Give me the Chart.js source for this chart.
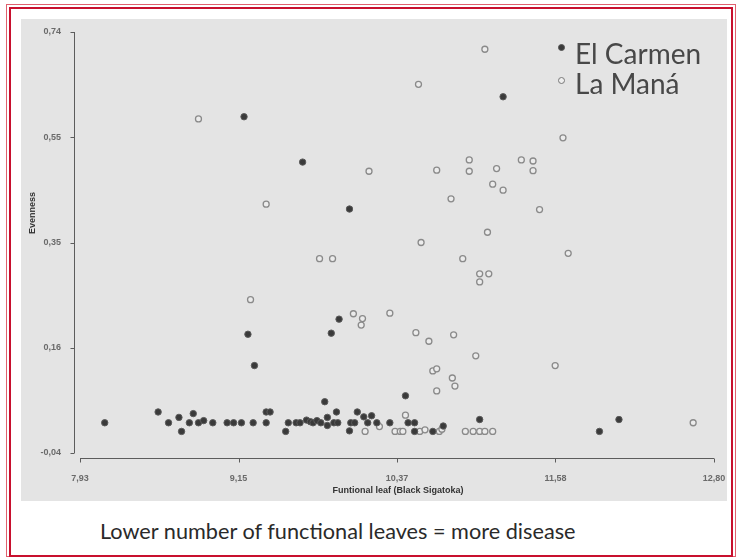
<!DOCTYPE html>
<html>
<head>
<meta charset="utf-8">
<script src="https://cdn.jsdelivr.net/npm/chart.js@4.4.1/dist/chart.umd.min.js"></script>
<style>
  html, body { margin: 0; padding: 0; background: #fff; }
  #page { position: relative; width: 736px; height: 557px; overflow: hidden; background: #fff; }
  .frame-outer { position: absolute; left: 6px; top: 4px; width: 728px; height: 551px; border: 1px solid #e0606e; }
  .frame-inner { position: absolute; left: 9px; top: 7px; width: 720px; height: 546px; border: 2px solid #c8102e; }
  #panel { position: absolute; left: 21px; top: 19px; width: 706px; height: 482px; background: #e4e4e4; }
  #panel canvas { position: absolute; left: 0; top: 0; }
  .axis-title { position: absolute; font: bold 9px "Liberation Sans", Arial, sans-serif; color: #333; white-space: nowrap; }
  #xTitle { left: 398px; top: 490px; transform: translate(-50%, -50%); }
  #yTitle { left: 32px; top: 213px; transform: translate(-50%, -50%) rotate(-90deg); }
  .legend-row { position: absolute; left: 575px; font: 28px Lato, sans-serif; line-height: 28px; color: #484848; white-space: nowrap; }
  .legend-dot { position: absolute; width: 7px; height: 7px; border-radius: 50%; box-sizing: border-box; }
  #caption { position: absolute; left: 100px; top: 520px; font: 21.7px Lato, sans-serif; line-height: 22px; color: #2a2a2a; white-space: nowrap; }
</style>
</head>
<body>
<div id="page">
  <div class="frame-outer"></div>
  <div class="frame-inner"></div>
  <div id="panel"><canvas id="scatter" width="706" height="482"></canvas></div>
  <div class="axis-title" id="xTitle">Funtional leaf (Black Sigatoka)</div>
  <div class="axis-title" id="yTitle">Evenness</div>
  <div class="legend-dot" style="left:558px;top:44px;background:#3a3a3a;border:1px solid #555;"></div>
  <div class="legend-row" style="top:39px;">El Carmen</div>
  <div class="legend-dot" style="left:558px;top:77px;background:#eee;border:1.3px solid #777;"></div>
  <div class="legend-row" style="top:69px;">La Maná</div>
  <div id="caption">Lower number of functional leaves = more disease</div>
</div>
<script>
// axis ticks (equal steps between min and max, labels use decimal comma)
var xTicks = [7.93, 9.1475, 10.365, 11.5825, 12.80];
var xTickLabels = ['7,93', '9,15', '10,37', '11,58', '12,80'];
var yTicks = [-0.04, 0.155, 0.35, 0.545, 0.74];
var yTickLabels = ['-0,04', '0,16', '0,35', '0,55', '0,74'];

// El Carmen
var carmenLeaf = [8.12, 8.53, 8.61, 8.69, 8.71, 8.80, 8.77, 8.84, 8.88, 8.95, 9.06, 9.11, 9.17, 9.26, 9.36, 9.36, 9.39,
  9.51, 9.53, 9.59, 9.62, 9.67, 9.70, 9.72, 9.75, 9.78, 9.81, 9.83, 9.83, 9.88, 9.91, 9.90, 10.01, 10.04, 10.00,
  10.06, 10.11, 10.14, 10.17, 10.21, 10.31, 10.43, 10.45, 10.50, 10.50, 10.64, 10.72, 11.00, 11.92, 12.07,
  9.19, 9.64, 10.00, 9.92, 9.86, 9.22, 9.27, 11.18];
var carmenEven = [0.016, 0.036, 0.016, 0.026, 0.000, 0.033, 0.016, 0.016, 0.020, 0.016, 0.016, 0.016, 0.016, 0.016, 0.016, 0.036, 0.036,
  0.000, 0.016, 0.016, 0.016, 0.021, 0.018, 0.016, 0.020, 0.016, 0.055, 0.026, 0.011, 0.016, 0.016, 0.036, 0.016, 0.016, 0.001,
  0.036, 0.027, 0.016, 0.029, 0.016, 0.016, 0.066, 0.016, 0.016, 0.000, 0.000, 0.010, 0.022, 0.000, 0.022,
  0.583, 0.499, 0.412, 0.208, 0.182, 0.180, 0.122, 0.620];

// La Maná
var manaLeaf = [8.84, 11.04, 10.53, 11.64, 10.92, 11.32, 11.41, 11.41, 10.67, 10.92, 11.13, 11.10, 11.18, 10.78, 11.46,
  10.15, 9.36, 11.06, 10.55, 11.68, 9.77, 9.87, 10.87, 11.00, 11.07, 11.00, 9.24, 10.31, 10.03, 10.10, 10.09, 10.51,
  10.80, 10.61, 10.97, 11.58, 10.64, 10.67, 10.79, 10.81, 10.67,
  10.12, 10.23, 10.35, 10.39, 10.41, 10.43, 10.54, 10.58, 10.69, 10.71, 10.89, 10.95, 11.00, 11.04, 11.10, 12.64];
var manaEven = [0.579, 0.708, 0.643, 0.544, 0.503, 0.503, 0.501, 0.483, 0.484, 0.482, 0.487, 0.458, 0.447, 0.431, 0.411,
  0.482, 0.421, 0.369, 0.350, 0.330, 0.320, 0.320, 0.320, 0.292, 0.292, 0.277, 0.244, 0.219, 0.218, 0.209, 0.197, 0.183,
  0.179, 0.167, 0.140, 0.122, 0.112, 0.116, 0.099, 0.084, 0.075,
  0.000, 0.009, 0.000, 0.000, 0.000, 0.030, 0.000, 0.003, 0.000, 0.004, 0.000, 0.000, 0.000, 0.000, 0.000, 0.016];

(function () {
  function toPoints(xs, ys) {
    return xs.map(function (x, i) { return { x: x, y: ys[i] }; });
  }

  // SPSS-style axes: lines pulled away from the plot area, ticks pointing outwards
  var offsetAxes = {
    id: 'offsetAxes',
    afterDraw: function (chart) {
      var ctx = chart.ctx;
      var xs = chart.scales.x, ys = chart.scales.y;
      var ax = Math.round(chart.chartArea.left - 6) + 0.5;
      var ay = Math.round(chart.chartArea.bottom + 5) + 0.5;
      ctx.save();
      ctx.strokeStyle = '#5c5c5c';
      ctx.lineWidth = 1;
      ctx.beginPath();
      ctx.moveTo(ax, ys.getPixelForValue(yTicks[yTicks.length - 1]));
      ctx.lineTo(ax, ys.getPixelForValue(yTicks[0]));
      yTicks.forEach(function (v) {
        var p = Math.round(ys.getPixelForValue(v)) + 0.5;
        ctx.moveTo(ax - 4, p);
        ctx.lineTo(ax, p);
      });
      ctx.moveTo(xs.getPixelForValue(xTicks[0]), ay);
      ctx.lineTo(xs.getPixelForValue(xTicks[xTicks.length - 1]), ay);
      xTicks.forEach(function (v) {
        var p = Math.round(xs.getPixelForValue(v)) + 0.5;
        ctx.moveTo(p, ay);
        ctx.lineTo(p, ay + 4);
      });
      ctx.stroke();
      ctx.restore();
    }
  };

  var tickFont = { family: 'Liberation Sans', size: 9, weight: 'bold' };

  new Chart(document.getElementById('scatter').getContext('2d'), {
    type: 'scatter',
    data: {
      datasets: [{
        label: 'El Carmen',
        data: toPoints(carmenLeaf, carmenEven),
        pointRadius: 3.2,
        pointBackgroundColor: '#3a3a3a',
        pointBorderColor: '#5a5a5a',
        pointBorderWidth: 1
      }, {
        label: 'La Maná',
        data: toPoints(manaLeaf, manaEven),
        pointRadius: 3,
        pointBackgroundColor: '#ececec',
        pointBorderColor: '#8a8a8a',
        pointBorderWidth: 1.3
      }]
    },
    options: {
      responsive: false,
      animation: false,
      layout: { padding: { left: 0, right: 13, top: 13, bottom: 0 } },
      plugins: { legend: { display: false }, tooltip: { enabled: false } },
      scales: {
        x: {
          type: 'linear',
          min: xTicks[0],
          max: xTicks[xTicks.length - 1],
          afterBuildTicks: function (scale) { scale.ticks = xTicks.map(function (v) { return { value: v }; }); },
          afterFit: function (scale) {
            scale.height = 48;
            scale.paddingLeft = 0;
            scale.paddingRight = 0;
          },
          grid: { display: false },
          border: { display: false },
          ticks: {
            autoSkip: false, maxRotation: 0, padding: 12, color: '#6a6a6a', font: tickFont,
            callback: function (v, i) { return xTickLabels[i]; }
          }
        },
        y: {
          type: 'linear',
          min: yTicks[0],
          max: yTicks[yTicks.length - 1],
          afterBuildTicks: function (scale) { scale.ticks = yTicks.map(function (v) { return { value: v }; }); },
          afterFit: function (scale) {
            scale.width = 59;
            scale.paddingTop = 0;
            scale.paddingBottom = 0;
          },
          grid: { display: false },
          border: { display: false },
          ticks: {
            autoSkip: false, padding: 11, color: '#6a6a6a', font: tickFont,
            callback: function (v, i) { return yTickLabels[i]; }
          }
        }
      }
    },
    plugins: [offsetAxes]
  });
})();
</script>
</body>
</html>
